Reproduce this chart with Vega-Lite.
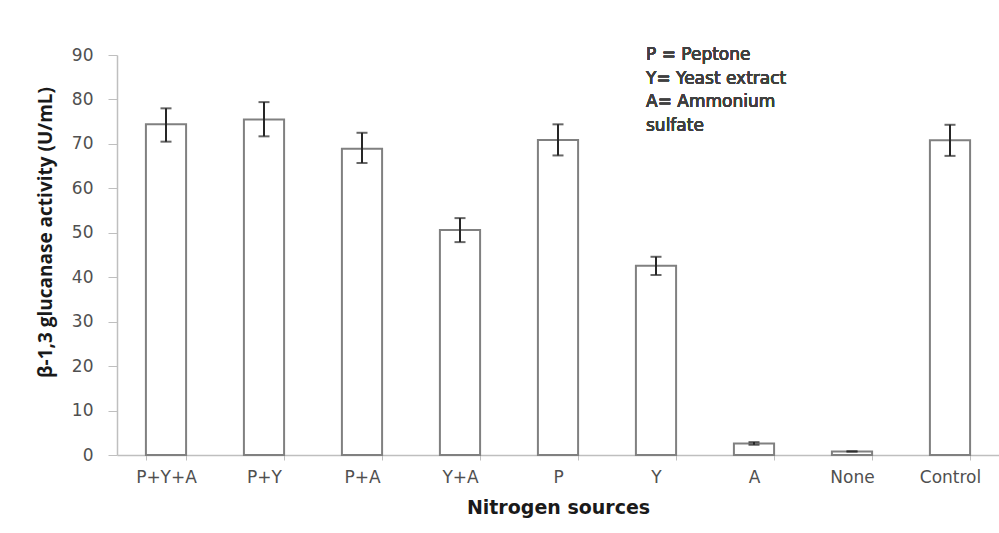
{
  "$schema": "https://vega.github.io/schema/vega-lite/v6.json",
  "width": 882,
  "height": 400,
  "autosize": {"type": "none"},
  "padding": {"left": 117, "top": 55, "right": 0, "bottom": 78},
  "background": "white",
  "config": {"view": {"stroke": null}},
  "data": {
    "values": [
      {"source": "P+Y+A", "activity": 74.4, "lo": 70.5, "hi": 78.0},
      {"source": "P+Y", "activity": 75.5, "lo": 71.7, "hi": 79.4},
      {"source": "P+A", "activity": 68.9, "lo": 65.7, "hi": 72.5},
      {"source": "Y+A", "activity": 50.6, "lo": 47.9, "hi": 53.3},
      {"source": "P", "activity": 70.9, "lo": 67.4, "hi": 74.4},
      {"source": "Y", "activity": 42.6, "lo": 40.5, "hi": 44.6},
      {"source": "A", "activity": 2.6, "lo": 2.3, "hi": 2.9},
      {"source": "None", "activity": 0.8, "lo": 0.8, "hi": 0.8},
      {"source": "Control", "activity": 70.8, "lo": 67.3, "hi": 74.3}
    ]
  },
  "encoding": {
    "x": {
      "field": "source",
      "type": "nominal",
      "sort": null,
      "scale": {"paddingInner": 0.59, "paddingOuter": 0.295},
      "axis": {
        "title": "Nitrogen sources",
        "labelAngle": 0,
        "tickBand": "extent",
        "tickSize": 5,
        "tickColor": "#bfbfbf",
        "domainColor": "#bfbfbf",
        "domainWidth": 1.5,
        "labelPadding": 9,
        "labelFont": "DejaVu Sans",
        "labelFontSize": 17,
        "labelColor": "#505050",
        "titleFont": "DejaVu Sans",
        "titleFontWeight": "bold",
        "titleFontSize": 19,
        "titleColor": "#1a1a1a",
        "titleY": 52,
        "titleBaseline": "middle"
      }
    }
  },
  "layer": [
    {
      "mark": {"type": "bar", "fill": "white", "stroke": "#808080", "strokeWidth": 2},
      "encoding": {
        "y": {
          "field": "activity",
          "type": "quantitative",
          "title": "β-1,3 glucanase activity (U/mL)",
          "scale": {"domain": [0, 90], "nice": false},
          "axis": {
            "values": [0, 10, 20, 30, 40, 50, 60, 70, 80, 90],
            "grid": false,
            "tickSize": 9,
            "tickColor": "#bfbfbf",
            "domainColor": "#bfbfbf",
            "domainWidth": 1.5,
            "labelPadding": 15,
            "labelFont": "DejaVu Sans",
            "labelFontSize": 17,
            "labelColor": "#505050",
            "titleFont": "Liberation Sans Narrow, Open Sans",
            "titleFontWeight": "bold",
            "titleFontSize": 19,
            "titleColor": "#1a1a1a",
            "titleAngle": -90,
            "titleX": -72,
            "titleY": 177,
            "titleAlign": "center",
            "titleBaseline": "middle"
          }
        }
      }
    },
    {
      "mark": {
        "type": "errorbar",
        "ticks": {"size": 11, "thickness": 2, "color": "#262626"},
        "rule": {"strokeWidth": 2, "color": "#262626"}
      },
      "encoding": {
        "y": {"field": "lo", "type": "quantitative", "title": "β-1,3 glucanase activity (U/mL)"},
        "y2": {"field": "hi"}
      }
    },
    {
      "mark": {
        "type": "text",
        "align": "left",
        "baseline": "middle",
        "dx": -10,
        "font": "DejaVu Sans",
        "fontSize": 17,
        "fontWeight": "normal",
        "lineHeight": 23.5,
        "color": "#404040"
      },
      "encoding": {
        "x": {"datum": "Y"},
        "y": {"datum": 90},
        "text": {"value": ["P = Peptone", "Y= Yeast extract", "A= Ammonium", "sulfate"]}
      }
    }
  ]
}
